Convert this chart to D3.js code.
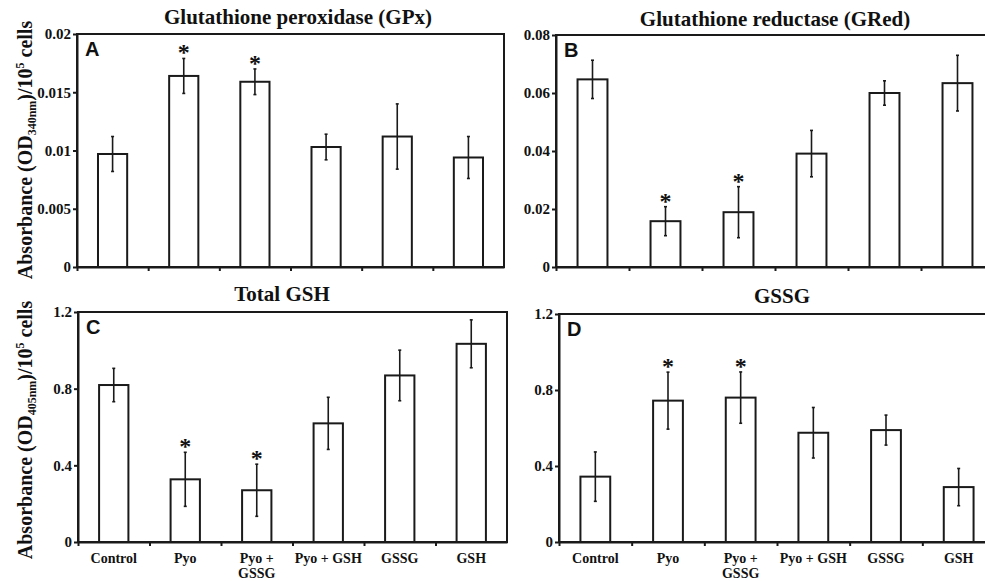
<!DOCTYPE html>
<html>
<head>
<meta charset="utf-8">
<script src="https://cdn.jsdelivr.net/npm/d3@7"></script>
<style>
  body { margin: 0; background: #fff; }
  svg text { font-family: "Liberation Serif", "Times New Roman", serif; font-weight: bold; fill: #111; }
</style>
</head>
<body>
<script>
// groups along the x axis
var categories = ["Control", "Pyo", "Pyo + GSSG", "Pyo + GSH", "GSSG", "GSH"];
var categoryLines = [["Control"], ["Pyo"], ["Pyo +", "GSSG"], ["Pyo + GSH"], ["GSSG"], ["GSH"]];

// A - glutathione peroxidase
var gpxMean = [0.0097, 0.0164, 0.0159, 0.0103, 0.0112, 0.0094];
var gpxErr = [0.0015, 0.0015, 0.0011, 0.0011, 0.0028, 0.0018];
var gpxSig = [false, true, true, false, false, false];
var gpxTicks = [0, 0.005, 0.01, 0.015, 0.02];
var gpxTickLabels = ["0", "0.005", "0.01", "0.015", "0.02"];

// B - glutathione reductase
var gredMean = [0.0647, 0.0158, 0.0189, 0.0391, 0.0600, 0.0634];
var gredErr = [0.0066, 0.0050, 0.0088, 0.0080, 0.0042, 0.0096];
var gredSig = [false, true, true, false, false, false];
var gredTicks = [0, 0.02, 0.04, 0.06, 0.08];
var gredTickLabels = ["0", "0.02", "0.04", "0.06", "0.08"];

// C - total GSH
var gshMean = [0.819, 0.327, 0.270, 0.619, 0.869, 1.034];
var gshErr = [0.087, 0.141, 0.136, 0.136, 0.132, 0.125];
var gshSig = [false, true, true, false, false, false];

// D - GSSG
var gssgMean = [0.344, 0.744, 0.760, 0.575, 0.589, 0.289];
var gssgErr = [0.130, 0.150, 0.135, 0.133, 0.079, 0.098];
var gssgSig = [false, true, true, false, false, false];

var odTicks = [0, 0.4, 0.8, 1.2];
var odTickLabels = ["0", "0.4", "0.8", "1.2"];

var w = 985, h = 581;
var ink = "#1a1a1a";

var svg = d3.select("body").append("svg")
    .attr("width", w)
    .attr("height", h);

var panels = [
    {letter: "A", title: "Glutathione peroxidase (GPx)", mean: gpxMean, err: gpxErr, sig: gpxSig,
     ticks: gpxTicks, tickLabels: gpxTickLabels, max: 0.02,
     box: {left: 77, right: 504, top: 34, bottom: 267}, titleX: 298, titleY: 24, xLabels: false},
    {letter: "B", title: "Glutathione reductase (GRed)", mean: gredMean, err: gredErr, sig: gredSig,
     ticks: gredTicks, tickLabels: gredTickLabels, max: 0.08,
     box: {left: 556, right: 994, top: 35, bottom: 267}, titleX: 775, titleY: 26, xLabels: false},
    {letter: "C", title: "Total GSH", mean: gshMean, err: gshErr, sig: gshSig,
     ticks: odTicks, tickLabels: odTickLabels, max: 1.2,
     box: {left: 78, right: 507, top: 312, bottom: 542}, titleX: 282, titleY: 301, xLabels: true},
    {letter: "D", title: "GSSG", mean: gssgMean, err: gssgErr, sig: gssgSig,
     ticks: odTicks, tickLabels: odTickLabels, max: 1.2,
     box: {left: 559, right: 995, top: 314, bottom: 542}, titleX: 782, titleY: 303, xLabels: true}
];

panels.forEach(draw_panel);

// shared y axis labels
y_label(150, "340nm");
y_label(430, "405nm");

function draw_panel(p) {
    var b = p.box;
    var pad = 0.59;
    var x = d3.scaleBand()
        .domain(categories)
        .range([b.left, b.right])
        .paddingInner(pad)
        .paddingOuter(pad / 2);
    var y = d3.scaleLinear()
        .domain([0, p.max])
        .range([b.bottom, b.top]);
    var g = svg.append("g");

    // frame
    g.append("rect")
        .attr("x", b.left).attr("y", b.top)
        .attr("width", b.right - b.left).attr("height", b.bottom - b.top)
        .attr("fill", "none")
        .attr("stroke", ink)
        .attr("stroke-width", 2);

    var rows = categories.map(function (c, i) {
        return {cat: c, mean: p.mean[i], err: p.err[i], sig: p.sig[i]};
    });

    g.selectAll("rect.bar")
        .data(rows)
        .enter()
        .append("rect")
        .attr("class", "bar")
        .attr("x", function (d) { return x(d.cat); })
        .attr("y", function (d) { return y(d.mean); })
        .attr("width", x.bandwidth())
        .attr("height", function (d) { return y(0) - y(d.mean); })
        .attr("fill", "#fff")
        .attr("stroke", ink)
        .attr("stroke-width", 2);

    // error bars
    var cx = function (d) { return x(d.cat) + x.bandwidth() / 2; };
    g.selectAll("line.err")
        .data(rows)
        .enter()
        .append("line")
        .attr("class", "err")
        .attr("x1", cx).attr("x2", cx)
        .attr("y1", function (d) { return y(d.mean - d.err); })
        .attr("y2", function (d) { return y(d.mean + d.err); })
        .attr("stroke", ink)
        .attr("stroke-width", 1.6);
    [-1, 1].forEach(function (s) {
        g.selectAll("line.cap" + s)
            .data(rows)
            .enter()
            .append("line")
            .attr("x1", function (d) { return cx(d) - 1.5; })
            .attr("x2", function (d) { return cx(d) + 1.5; })
            .attr("y1", function (d) { return y(d.mean + s * d.err); })
            .attr("y2", function (d) { return y(d.mean + s * d.err); })
            .attr("stroke", ink)
            .attr("stroke-width", 1.6);
    });

    g.selectAll("text.star")
        .data(rows.filter(function (d) { return d.sig; }))
        .enter()
        .append("text")
        .attr("class", "star")
        .attr("x", cx)
        .attr("y", function (d) { return y(d.mean + d.err) + 2; })
        .attr("text-anchor", "middle")
        .style("font-size", "24px")
        .text("*");

    // axes
    var yAxis = d3.axisLeft(y)
        .tickValues(p.ticks)
        .tickFormat(function (d, i) { return p.tickLabels[i]; })
        .tickSize(4)
        .tickSizeOuter(0);
    var ya = g.append("g")
        .attr("transform", "translate(" + b.left + ",0)")
        .call(yAxis);
    ya.select(".domain").attr("stroke", ink).attr("stroke-width", 2);
    ya.selectAll(".tick line").attr("stroke", ink).attr("stroke-width", 2);
    ya.selectAll(".tick text")
        .attr("x", -6)
        .style("font-size", "15px")
        .style("font-family", "Liberation Serif, serif")
        .style("font-weight", "bold")
        .attr("fill", "#111");

    var bounds = d3.scaleLinear().domain([0, categories.length]).range([b.left, b.right]);
    var xAxis = d3.axisBottom(bounds)
        .tickValues(d3.range(categories.length))
        .tickFormat("")
        .tickSize(4)
        .tickSizeOuter(0);
    var xa = g.append("g")
        .attr("transform", "translate(0," + b.bottom + ")")
        .call(xAxis);
    xa.select(".domain").attr("stroke", ink).attr("stroke-width", 2);
    xa.selectAll(".tick line").attr("stroke", ink).attr("stroke-width", 2);

    if (p.xLabels) {
        var lab = g.selectAll("text.cat")
            .data(categories)
            .enter()
            .append("text")
            .attr("class", "cat")
            .attr("text-anchor", "middle")
            .attr("x", function (c) { return x(c) + x.bandwidth() / 2; })
            .attr("y", b.bottom + 21)
            .style("font-size", "14px");
        lab.selectAll("tspan")
            .data(function (c, i) { return categoryLines[i]; })
            .enter()
            .append("tspan")
            .attr("x", function () { return d3.select(this.parentNode).attr("x"); })
            .attr("dy", function (d, i) { return i === 0 ? 0 : 15; })
            .text(function (d) { return d; });
    }

    g.append("text")
        .attr("x", p.titleX)
        .attr("y", p.titleY)
        .attr("text-anchor", "middle")
        .style("font-size", "21px")
        .text(p.title);

    g.append("text")
        .attr("x", b.left + 8)
        .attr("y", b.top + 22)
        .style("font-family", "Liberation Sans, Arial, sans-serif")
        .style("font-size", "20px")
        .text(p.letter);
}

function y_label(cy, sub) {
    var t = svg.append("text")
        .attr("transform", "translate(32," + cy + ") rotate(-90)")
        .attr("text-anchor", "middle")
        .style("font-size", "20px");
    t.append("tspan").text("Absorbance  (OD");
    t.append("tspan").attr("dy", 4).style("font-size", "12px").text(sub);
    t.append("tspan").attr("dy", -4).text(")/10");
    t.append("tspan").attr("dy", -8).style("font-size", "12px").text("5");
    t.append("tspan").attr("dy", 8).text(" cells");
}
</script>
</body>
</html>
